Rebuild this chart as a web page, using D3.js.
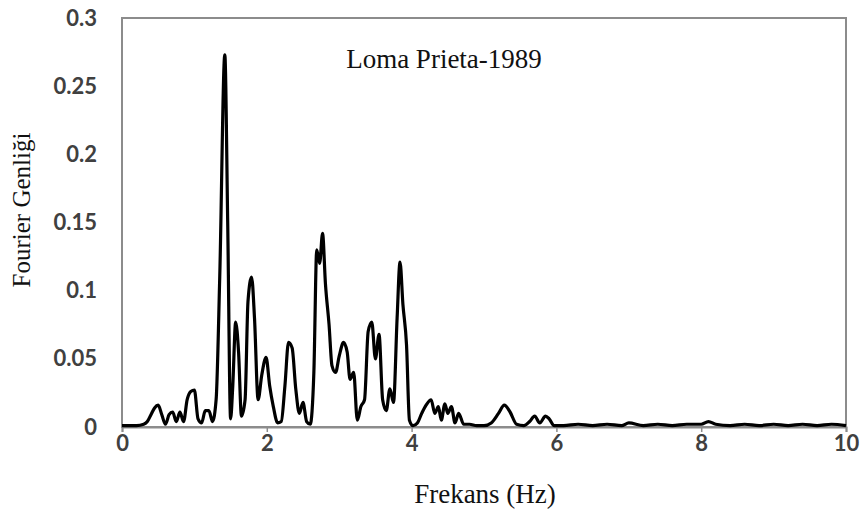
<!DOCTYPE html>
<html lang="tr">
<head>
<meta charset="UTF-8">
<script src="https://cdn.jsdelivr.net/npm/d3@7"></script>
<style>
    body { margin: 0; background: #fff; }
    .tick text { font-family: Lato, "Open Sans", sans-serif; font-weight: bold; font-size: 22px; fill: #404040; }
    .ttl { font-family: "Liberation Serif", "Times New Roman", serif; fill: #111; }
</style>
</head>
<body>
<svg id="chart" width="861" height="518"></svg>
<script>
    // Fourier amplitude spectrum
    var freq = [0, 0.1, 0.2, 0.3, 0.35, 0.4, 0.45, 0.5, 0.55, 0.6, 0.65, 0.7, 0.75, 0.8, 0.85, 0.9, 0.95,
        1.0, 1.05, 1.1, 1.15, 1.2, 1.25, 1.3, 1.35, 1.42, 1.46, 1.5, 1.53, 1.57, 1.61, 1.65, 1.7, 1.74,
        1.79, 1.83, 1.88, 1.93, 1.99, 2.04, 2.09, 2.15, 2.2, 2.25, 2.3, 2.35, 2.4, 2.45, 2.5, 2.55, 2.6,
        2.65, 2.69, 2.73, 2.77, 2.81, 2.86, 2.9, 2.95, 3.0, 3.06, 3.11, 3.15, 3.2, 3.25, 3.3, 3.35, 3.4,
        3.45, 3.5, 3.55, 3.6, 3.65, 3.7, 3.75, 3.8, 3.84, 3.88, 3.93, 3.97, 4.02, 4.08, 4.14, 4.2, 4.27,
        4.32, 4.37, 4.41, 4.46, 4.5, 4.55, 4.6, 4.65, 4.72, 4.8, 4.9, 5.0, 5.1, 5.2, 5.28, 5.36, 5.45,
        5.55, 5.63, 5.7, 5.77, 5.85, 5.9, 5.97, 6.1, 6.3, 6.5, 6.7, 6.9, 7.0, 7.2, 7.4, 7.6, 7.8, 8.0,
        8.1, 8.2, 8.4, 8.6, 8.8, 9.0, 9.2, 9.4, 9.6, 9.8, 10];
    var amp = [0.001, 0.001, 0.001, 0.002, 0.004, 0.009, 0.014, 0.016, 0.009, 0.002, 0.009, 0.011, 0.004, 0.011, 0.004, 0.02, 0.026,
        0.027, 0.006, 0.003, 0.012, 0.012, 0.004, 0.02, 0.11, 0.273, 0.15, 0.006, 0.03, 0.077, 0.055, 0.008, 0.02, 0.092,
        0.11, 0.08, 0.02, 0.038, 0.051, 0.03, 0.015, 0.003, 0.004, 0.03, 0.062, 0.058, 0.028, 0.01, 0.018, 0.004, 0.002,
        0.04, 0.13, 0.12, 0.142, 0.105, 0.075, 0.045, 0.04, 0.052, 0.062, 0.055, 0.035, 0.04, 0.005, 0.015, 0.02, 0.07,
        0.077, 0.05, 0.068, 0.02, 0.012, 0.028, 0.018, 0.08, 0.121, 0.09, 0.06, 0.005, 0.001, 0.003, 0.01, 0.016, 0.02,
        0.01, 0.015, 0.005, 0.017, 0.01, 0.015, 0.003, 0.01, 0.002, 0.002, 0.001, 0.001, 0.003, 0.01, 0.016, 0.011, 0.002,
        0.001, 0.004, 0.008, 0.003, 0.008, 0.006, 0.001, 0.001, 0.002, 0.001, 0.002, 0.001, 0.003, 0.001, 0.002, 0.001, 0.002, 0.002,
        0.004, 0.002, 0.001, 0.002, 0.001, 0.002, 0.001, 0.002, 0.001, 0.002, 0.001];

    var xTicks = [0, 2, 4, 6, 8, 10];
    var yTicks = [0, 0.05, 0.1, 0.15, 0.2, 0.25, 0.3];

    var svg = d3.select("#chart");
    var mLeft = 122, mRight = 846, mTop = 18, mBottom = 427;

    var x = d3.scaleLinear().domain([0, 10]).range([mLeft, mRight]);
    var y = d3.scaleLinear().domain([0, 0.3]).range([mBottom, mTop]);

    // plot frame
    svg.append("rect")
            .attr("x", mLeft).attr("y", mTop)
            .attr("width", mRight - mLeft).attr("height", mBottom - mTop)
            .attr("fill", "none").attr("stroke", "#8c8c8c").attr("stroke-width", 2);

    var xAxis = svg.append("g")
            .attr("transform", "translate(0," + mBottom + ")")
            .call(d3.axisBottom(x).tickValues(xTicks).tickSize(5).tickPadding(3).tickFormat(d3.format("d")));
    xAxis.select(".domain").attr("stroke", "#8c8c8c").attr("stroke-width", 2);
    xAxis.selectAll(".tick line").attr("stroke", "#8c8c8c").attr("stroke-width", 1.5);

    var yAxis = svg.append("g")
            .attr("transform", "translate(" + mLeft + ",0)")
            .call(d3.axisLeft(y).tickValues(yTicks).tickSize(0).tickPadding(25)
                    .tickFormat(function (d) { return String(+d.toFixed(2)); }));
    yAxis.select(".domain").remove();

    var line = d3.line()
            .x(function (d, i) { return x(freq[i]); })
            .y(function (d) { return y(d); })
            .curve(d3.curveMonotoneX);

    svg.append("path")
            .datum(amp)
            .attr("d", line)
            .attr("fill", "none")
            .attr("stroke", "#000")
            .attr("stroke-width", 3.2)
            .attr("stroke-linejoin", "round");

    svg.append("text").attr("class", "ttl")
            .attr("x", 444).attr("y", 68).attr("text-anchor", "middle")
            .style("font-size", "27px")
            .text("Loma Prieta-1989");

    svg.append("text").attr("class", "ttl")
            .attr("x", 485).attr("y", 503).attr("text-anchor", "middle")
            .style("font-size", "27px")
            .text("Frekans (Hz)");

    svg.append("text").attr("class", "ttl")
            .attr("transform", "translate(30,210) rotate(-90)")
            .attr("text-anchor", "middle")
            .style("font-size", "25px")
            .text("Fourier Genliği");
</script>
</body>
</html>
